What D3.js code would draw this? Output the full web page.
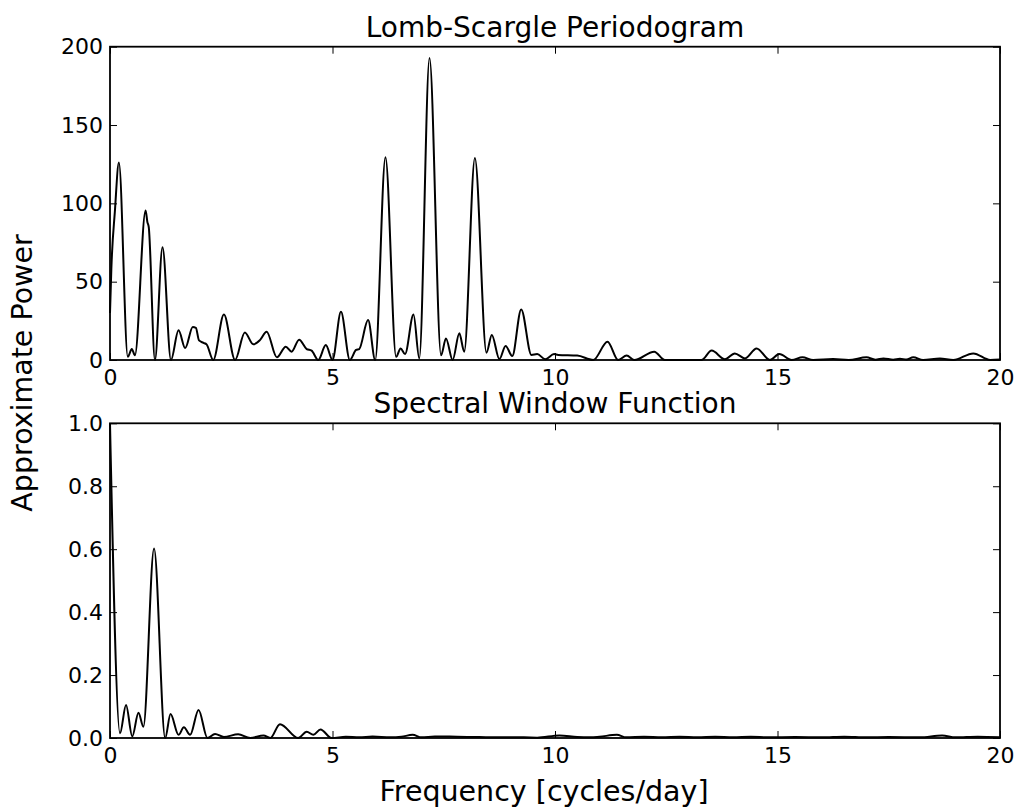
<!DOCTYPE html>
<html>
<head>
<meta charset="utf-8">
<script src="https://cdn.jsdelivr.net/npm/d3@7"></script>
<style>
  body { margin: 0; background: #fff; }
  svg { font-family: "DejaVu Sans", sans-serif; }
</style>
</head>
<body>
<svg width="1024" height="810"></svg>
<script>
// periodogram (local peaks and troughs)
const freqTop = [0, 0.03, 0.11, 0.2, 0.4, 0.49, 0.56, 0.8, 0.84, 0.87, 1.01, 1.18, 1.37, 1.54, 1.69, 1.86, 1.93,
    2.0, 2.1, 2.17, 2.32, 2.56, 2.81, 3.03, 3.22, 3.37, 3.52, 3.75, 3.95, 4.08, 4.25, 4.42, 4.53, 4.68, 4.85,
    5.0, 5.19, 5.39, 5.53, 5.6, 5.8, 5.96, 6.19, 6.43, 6.53, 6.63, 6.82, 6.95, 7.18, 7.44, 7.55, 7.7, 7.85,
    7.96, 8.2, 8.46, 8.58, 8.75, 8.89, 9.04, 9.24, 9.47, 9.6, 9.78, 9.98, 10.07, 10.5, 10.86, 11.18, 11.42,
    11.61, 11.78, 12.23, 12.47, 13.29, 13.52, 13.82, 14.04, 14.27, 14.53, 14.83, 15.04, 15.32, 15.56, 15.8,
    16.25, 16.6, 17.0, 17.2, 17.38, 17.6, 17.75, 17.9, 18.05, 18.27, 18.65, 18.95, 19.4, 19.78, 20];
const powerTop = [30, 58, 95, 126, 2, 7, 3, 95.5, 88, 85, 0, 72, 0, 19, 7.6, 21, 20.5,
    12.5, 11, 10, 0, 29, 0, 17.6, 10, 12.7, 18, 1.7, 8.5, 5.3, 13, 7, 6, 0, 9.5,
    0, 30.8, 0, 6.4, 7, 25.5, 0, 129.5, 2, 7.4, 3.8, 29, 1, 192.8, 3, 13.8, 0, 17,
    5.3, 129, 4.7, 16, 0.6, 9, 2.5, 32.3, 3.2, 3.8, 0.5, 3.8, 3.2, 2.8, 0, 11.7, 0,
    2.8, 0, 5.3, 0, 0, 6, 0.5, 4.2, 1, 7.4, 0, 3.8, 0, 1.7, 0,
    0.6, 0, 1.7, 0.2, 1, 0.2, 0.8, 0.3, 1.7, 0, 1, 0, 4.2, 0, 0.3];

// spectral window
const freqBottom = [0, 0.225, 0.36, 0.5, 0.64, 0.75, 0.99, 1.24, 1.36, 1.54, 1.66, 1.8, 1.99, 2.19, 2.36, 2.56,
    2.88, 3.15, 3.45, 3.6, 3.82, 4.23, 4.42, 4.57, 4.73, 4.98, 5.3, 5.6, 5.9, 6.3, 6.55, 6.8, 7.0, 7.3, 7.8,
    8.3, 8.7, 9.3, 9.6, 10.1, 10.5, 10.8, 11.0, 11.39, 11.6, 12.0, 12.4, 12.8, 13.2, 13.6, 14.0, 14.4, 14.8,
    15.4, 16.0, 16.5, 17.0, 17.5, 18.2, 18.7, 19.0, 19.5, 20];
const powerBottom = [1.0, 0.015, 0.105, 0.005, 0.08, 0.036, 0.602, 0, 0.076, 0.01, 0.034, 0.01, 0.089, 0, 0.013, 0.003,
    0.012, 0, 0.008, 0, 0.044, 0, 0.02, 0.01, 0.027, 0, 0.004, 0.002, 0.005, 0.002, 0.004, 0.01, 0.002, 0.005, 0.004,
    0.003, 0.002, 0.002, 0.001, 0.008, 0.003, 0.002, 0.004, 0.01, 0.002, 0.004, 0.002, 0.004, 0.002, 0.004, 0.002, 0.004, 0.002,
    0.003, 0.002, 0.004, 0.002, 0.003, 0.002, 0.008, 0.002, 0.004, 0.002];

const xTicks = [0, 5, 10, 15, 20];
const yTicksTop = [0, 50, 100, 150, 200];
const yTicksBottom = [0, 0.2, 0.4, 0.6, 0.8, 1.0];

const svg = d3.select("svg");

const left = 110, right = 1000;
const tickLen = 7;

function panel(freq, power, top, bottom, yMax, yTicks, yFmt, title, titleY) {
    const data = freq.map((f, i) => ({f: f, p: power[i]}));

    const x = d3.scaleLinear().domain([0, 20]).range([left, right]);
    const y = d3.scaleLinear().domain([0, yMax]).range([bottom, top]);

    const g = svg.append("g");

    g.append("path")
        .datum(data)
        .attr("fill", "none")
        .attr("stroke", "#000")
        .attr("stroke-width", 2)
        .attr("stroke-linejoin", "round")
        .attr("d", d3.line().x(d => x(d.f)).y(d => y(d.p)).curve(d3.curveMonotoneX));

    const ax = [
        g.append("g").attr("transform", `translate(0,${bottom})`)
            .call(d3.axisBottom(x).tickValues(xTicks).tickSize(-tickLen).tickPadding(9).tickFormat(d3.format("d"))),
        g.append("g").attr("transform", `translate(0,${top})`)
            .call(d3.axisTop(x).tickValues(xTicks).tickSize(-tickLen).tickFormat("")),
        g.append("g").attr("transform", `translate(${left},0)`)
            .call(d3.axisLeft(y).tickValues(yTicks).tickSize(-tickLen).tickPadding(7).tickFormat(d3.format(yFmt))),
        g.append("g").attr("transform", `translate(${right},0)`)
            .call(d3.axisRight(y).tickValues(yTicks).tickSize(-tickLen).tickFormat(""))
    ];
    ax.forEach(a => {
        a.select(".domain").remove();
        a.selectAll("line").attr("stroke", "#000").attr("stroke-width", 1);
        a.selectAll("text").attr("fill", "#000").style("font-size", "22px").style("font-family", "DejaVu Sans");
    });

    g.append("rect")
        .attr("x", left)
        .attr("y", top)
        .attr("width", right - left)
        .attr("height", bottom - top)
        .attr("fill", "none")
        .attr("stroke", "#000")
        .attr("stroke-width", 1.8);

    svg.append("text")
        .attr("x", (left + right) / 2)
        .attr("y", titleY)
        .attr("text-anchor", "middle")
        .style("font-size", "28px")
        .text(title);
}

panel(freqTop, powerTop, 46.7, 360, 200, yTicksTop, "d", "Lomb-Scargle Periodogram", 37);
panel(freqBottom, powerBottom, 423.3, 738, 1.0, yTicksBottom, ".1f", "Spectral Window Function", 413);

svg.append("text")
    .attr("x", 544)
    .attr("y", 801)
    .attr("text-anchor", "middle")
    .style("font-size", "28.5px")
    .text("Frequency [cycles/day]");

svg.append("text")
    .attr("transform", "rotate(-90)")
    .attr("x", -373)
    .attr("y", 32)
    .attr("text-anchor", "middle")
    .style("font-size", "28.5px")
    .text("Approximate Power");
</script>
</body>
</html>
